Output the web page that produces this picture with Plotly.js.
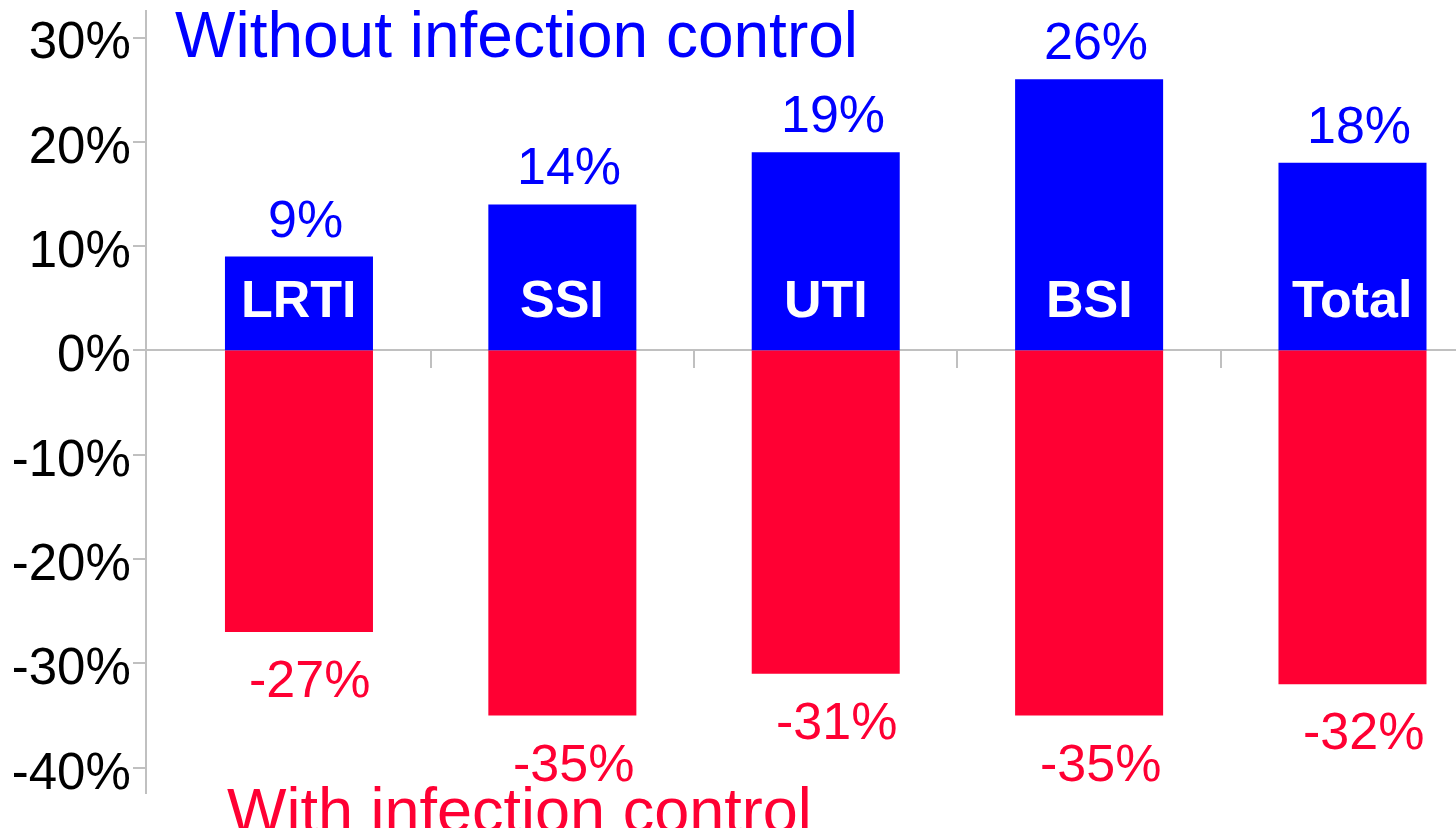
<!DOCTYPE html>
<html>
<head>
<meta charset="utf-8">
<script src="https://cdn.plot.ly/plotly-3.0.1.min.js"></script>
<style>html,body{margin:0;padding:0;background:#fff;}#chart{width:1456px;height:828px;}</style>
</head>
<body>
<div id="chart"></div>
<script>
const categories = ["LRTI", "SSI", "UTI", "BSI", "Total"];
const withoutControl = [9, 14, 19, 26, 18];
const withControl = [-27, -35, -31, -35, -32];
const yTickValues = [-40, -30, -20, -10, 0, 10, 20, 30];
const seriesNames = ["Without infection control", "With infection control"];

const BLUE = "#0000FF";
const RED = "#FF0033";
const GRAY = "#C0C0C0";
const FONT = "Liberation Sans, Arial, sans-serif";

const yRange = [-42.52, 32.64];
const xRange = [-0.577, 4.393];
const zeroFrac = (0 - yRange[0]) / (yRange[1] - yRange[0]);

const traces = [
  { type: "bar", x: categories, y: withoutControl, name: seriesNames[0],
    marker: { color: BLUE }, width: 0.562, hoverinfo: "skip" },
  { type: "bar", x: categories, y: withControl, name: seriesNames[1],
    marker: { color: RED }, width: 0.562, hoverinfo: "skip" }
];

const annotations = [];
categories.forEach((c, i) => {
  annotations.push({ x: c, y: 0, xref: "x", yref: "y", text: c, showarrow: false,
    yanchor: "middle", yshift: 51, font: { family: FONT, size: 52, color: "#FFFFFF", weight: "bold" } });
  annotations.push({ x: c, y: withoutControl[i], xref: "x", yref: "y", text: withoutControl[i] + "%",
    showarrow: false, yanchor: "bottom", xshift: 7, yshift: 7, font: { family: FONT, size: 52, color: BLUE } });
  annotations.push({ x: c, y: withControl[i], xref: "x", yref: "y", text: withControl[i] + "%",
    showarrow: false, yanchor: "top", xshift: 11, yshift: -16, font: { family: FONT, size: 52, color: RED } });
});
annotations.push({ x: (173 - 147) / 1309, y: 1 - (35 - 10) / 784, xref: "paper", yref: "paper",
  text: seriesNames[0], showarrow: false, xanchor: "left", yanchor: "middle",
  font: { family: FONT, size: 64, color: BLUE } });
annotations.push({ x: (225 - 147) / 1309, y: 1 - (810 - 10) / 784, xref: "paper", yref: "paper",
  text: seriesNames[1], showarrow: false, xanchor: "left", yanchor: "middle",
  font: { family: FONT, size: 63, color: RED } });

const layout = {
  width: 1456, height: 828,
  margin: { l: 147, r: 0, t: 10, b: 34 },
  paper_bgcolor: "#FFFFFF", plot_bgcolor: "#FFFFFF",
  showlegend: false,
  barmode: "overlay",
  font: { family: FONT, color: "#000000" },
  xaxis: {
    type: "category", range: xRange, fixedrange: true,
    anchor: "free", position: zeroFrac, side: "bottom",
    showline: false, showgrid: false, zeroline: false,
    tickmode: "array", tickvals: [0.5, 1.5, 2.5, 3.5], ticktext: ["", "", "", ""],
    ticks: "outside", ticklen: 17, tickwidth: 2, tickcolor: GRAY, showticklabels: false
  },
  yaxis: {
    range: yRange, fixedrange: true,
    tickmode: "array", tickvals: yTickValues, ticktext: yTickValues.map(v => v + "%"),
    ticks: "outside", ticklen: 12, tickwidth: 2, tickcolor: GRAY,
    showline: true, linecolor: GRAY, linewidth: 2,
    showgrid: false, zeroline: true, zerolinecolor: GRAY, zerolinewidth: 2,
    ticklabelstandoff: -8, ticklabelshift: 3,
    tickfont: { family: FONT, size: 51, color: "#000000" }
  },
  annotations: annotations
};

Plotly.newPlot("chart", traces, layout, { displayModeBar: false, staticPlot: true });
</script>
</body>
</html>
